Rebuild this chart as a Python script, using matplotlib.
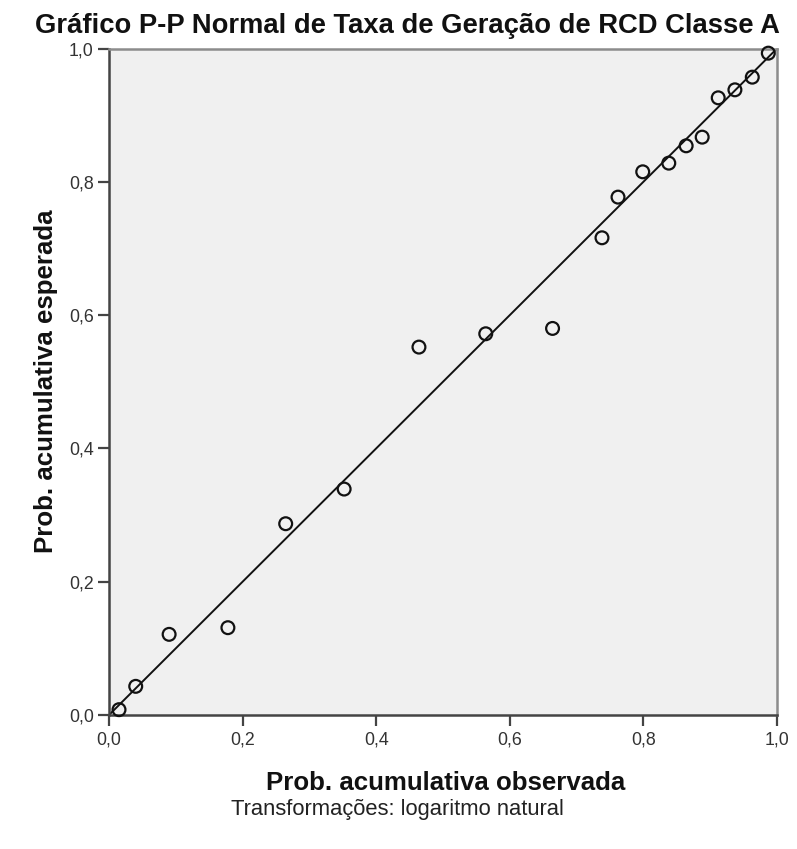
import matplotlib
matplotlib.use("Agg")
import matplotlib.pyplot as plt

plt.rcParams['font.family'] = ['Liberation Sans', 'DejaVu Sans']

title = "Gráfico P-P Normal de Taxa de Geração de RCD Classe A"
xlabel = "Prob. acumulativa observada"
ylabel = "Prob. acumulativa esperada"
footnote = "Transformações: logaritmo natural"

observed = [0.015, 0.040, 0.090, 0.178, 0.2645, 0.352, 0.464, 0.564, 0.664,
            0.738, 0.762, 0.799, 0.838, 0.864, 0.888, 0.912, 0.937, 0.963, 0.987]
expected = [0.008, 0.043, 0.121, 0.131, 0.287, 0.339, 0.552, 0.572, 0.580,
            0.716, 0.777, 0.815, 0.828, 0.854, 0.867, 0.926, 0.938, 0.957, 0.993]
ticks = [0.0, 0.2, 0.4, 0.6, 0.8, 1.0]
tick_labels = ["0,0", "0,2", "0,4", "0,6", "0,8", "1,0"]

W, H = 797, 849
fig = plt.figure(figsize=(W / 100, H / 100), dpi=100)
x0, x1, y0, y1 = 109, 777, 715, 48.5
ax = fig.add_axes([x0 / W, 1 - y0 / H, (x1 - x0) / W, (y0 - y1) / H])
ax.set_facecolor('#F0F0F0')

ax.plot([0, 1], [0, 1], color='#111111', lw=1.4, zorder=2)
ax.scatter(observed, expected, s=85, facecolors='none', edgecolors='#111111',
           linewidths=1.6, zorder=3, clip_on=False)

ax.set_xlim(0, 1)
ax.set_ylim(0, 1)
ax.set_xticks(ticks)
ax.set_xticklabels(tick_labels)
ax.set_yticks(ticks)
ax.set_yticklabels(tick_labels)
ax.tick_params(direction='out', length=8, width=1.6, color='#444444',
               labelsize=12.8, labelcolor='#333333')
ax.tick_params(axis='x', pad=4)
ax.tick_params(axis='y', pad=3)

for side in ['left', 'bottom']:
    ax.spines[side].set_color('#444444')
    ax.spines[side].set_linewidth(1.8)
for side in ['top', 'right']:
    ax.spines[side].set_color('#8c8c8c')
    ax.spines[side].set_linewidth(1.8)

fig.text(446 / W, 1 - 790 / H, xlabel, ha='center', va='baseline',
         fontsize=18.6, fontweight='bold', color='#111111')
fig.text(46 / W, 1 - 381 / H, ylabel, ha='center', va='center', rotation=90,
         fontsize=18.6, fontweight='bold', color='#111111')
fig.text(407 / W, 1 - 33 / H, title, ha='center', va='baseline',
         fontsize=19.7, fontweight='bold', color='#111111')
fig.text(397 / W, 1 - 815 / H, footnote, ha='center', va='baseline',
         fontsize=15.8, color='#222222')

fig.savefig("out.png", dpi=100)
